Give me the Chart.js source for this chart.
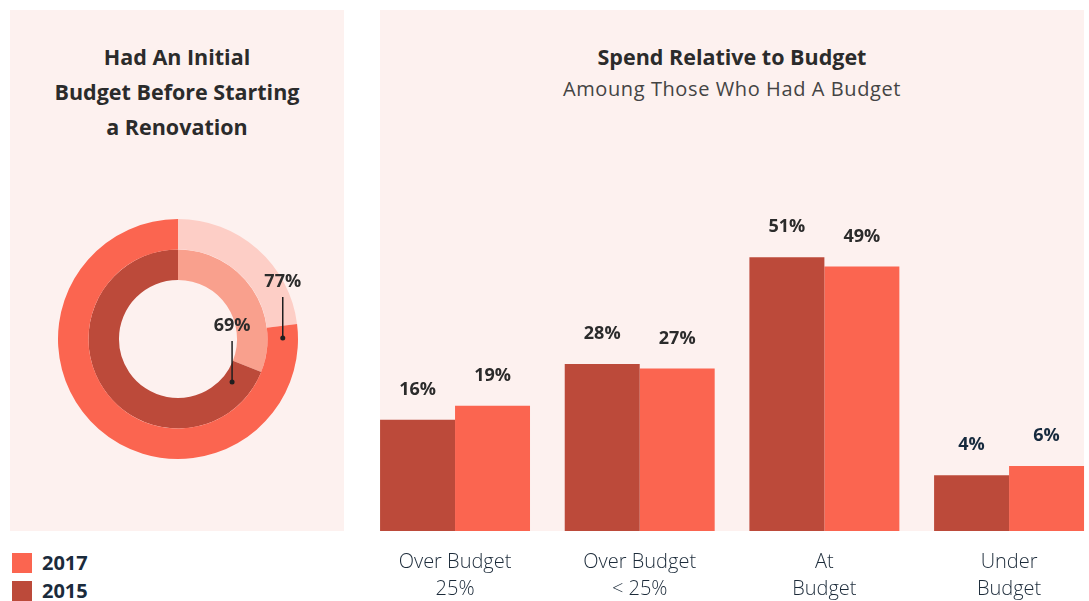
<!DOCTYPE html>
<html>
<head>
<meta charset="utf-8">
<script src="https://cdn.jsdelivr.net/npm/chart.js@4.4.1/dist/chart.umd.min.js"></script>
<style>
  body { margin: 0; width: 1089px; height: 601px; overflow: hidden; background: #fff; position: relative; font-family: "Open Sans", Lato, sans-serif; }
  .panel { position: absolute; background: #fdf1ef; }
  .title { position: absolute; text-align: center; font-weight: 700; font-size: 21.5px; line-height: 35px; color: #2b2b2b; }
  .subtitle { position: absolute; text-align: center; font-size: 20px; color: #444; letter-spacing: 0.6px; }
  .box { position: absolute; }
  .legend { position: absolute; left: 12px; font-weight: 700; font-size: 20px; color: #1b2b3c; }
  .legend div { position: relative; height: 27.5px; line-height: 20px; padding-left: 30px; }
  .legend span { position: absolute; left: 0; top: 0; width: 20px; height: 20px; }
</style>
</head>
<body>
<div class="panel" style="left:10px;top:10px;width:334px;height:521px"></div>
<div class="panel" style="left:380px;top:10px;width:704px;height:521px"></div>

<div class="title" style="left:10px;top:39px;width:334px">Had An Initial<br>Budget Before Starting<br>a Renovation</div>
<div class="title" style="left:380px;top:39px;width:704px">Spend Relative to Budget</div>
<div class="subtitle" style="left:380px;top:75px;width:704px">Amoung Those Who Had A Budget</div>

<div class="box" style="left:10px;top:10px;width:334px;height:521px"><canvas id="donut"></canvas></div>
<div class="box" style="left:300px;top:150px;width:812px;height:451px"><canvas id="bars"></canvas></div>

<div class="legend" style="top:553px">
  <div><span style="background:#fb6550"></span>2017</div>
  <div><span style="background:#bc4a3a"></span>2015</div>
</div>

<script>
// donut: had a budget (yes / no)
const years = ['2017', '2015'];
const budgetYes = [77, 69];
const budgetNo = [23, 31];

// bars: spend relative to budget
const categories = [['Over Budget', '25%'], ['Over Budget', '< 25%'], ['At', 'Budget'], ['Under', 'Budget']];
const spend2015 = [16, 28, 51, 4];
const spend2017 = [19, 27, 49, 6];

const COLOR_2017 = '#fb6550';
const COLOR_2015 = '#bc4a3a';
const FONT = '"Open Sans"';

// callout on each ring: value above a short leader line
const donutCallouts = {
  id: 'donutCallouts',
  afterDatasetsDraw(chart) {
    const ctx = chart.ctx;
    const offsets = [0.117, 0.295];   // radians past the start of the "yes" arc
    const radial = [0.5, 0.33];       // where the dot sits across the ring
    chart.data.datasets.forEach((ds, i) => {
      const arc = chart.getDatasetMeta(i).data[1];
      const a = arc.startAngle + offsets[i];
      const r = arc.innerRadius + (arc.outerRadius - arc.innerRadius) * radial[i];
      const x = arc.x + Math.cos(a) * r;
      const y = arc.y + Math.sin(a) * r;
      ctx.save();
      ctx.strokeStyle = '#1f1f1f';
      ctx.fillStyle = '#1f1f1f';
      ctx.lineWidth = 1.5;
      ctx.beginPath();
      ctx.moveTo(x, y);
      ctx.lineTo(x, y - 41);
      ctx.stroke();
      ctx.beginPath();
      ctx.arc(x, y, 2.5, 0, Math.PI * 2);
      ctx.fill();
      ctx.font = '700 18px ' + FONT;
      ctx.textAlign = 'center';
      ctx.textBaseline = 'middle';
      ctx.fillStyle = '#2b2b2b';
      ctx.fillText(ds.data[1] + '%', x, y - 56);
      ctx.restore();
    });
  }
};

new Chart(document.getElementById('donut'), {
  type: 'doughnut',
  data: {
    labels: ['No budget', 'Had a budget'],
    datasets: [
      { label: years[0], data: [budgetNo[0], budgetYes[0]], backgroundColor: ['#fdcec6', COLOR_2017], borderWidth: 0 },
      { label: years[1], data: [budgetNo[1], budgetYes[1]], backgroundColor: ['#f9a08d', COLOR_2015], borderWidth: 0 }
    ]
  },
  options: {
    responsive: true,
    maintainAspectRatio: false,
    animation: false,
    cutout: '49.2%',
    layout: { padding: { left: 48, right: 46, top: 209, bottom: 72 } },
    plugins: { legend: { display: false }, tooltip: { enabled: false } }
  },
  plugins: [donutCallouts]
});

const barValues = {
  id: 'barValues',
  afterDatasetsDraw(chart) {
    const ctx = chart.ctx;
    ctx.save();
    ctx.font = '700 18px ' + FONT;
    ctx.textAlign = 'center';
    ctx.textBaseline = 'middle';
    chart.data.datasets.forEach((ds, i) => {
      chart.getDatasetMeta(i).data.forEach((bar, j) => {
        ctx.fillStyle = j === 3 ? '#15293d' : '#2b2b2b';
        ctx.fillText(ds.data[j] + '%', bar.x, bar.y - 30);
      });
    });
    ctx.restore();
  }
};

new Chart(document.getElementById('bars'), {
  type: 'bar',
  data: {
    labels: categories,
    datasets: [
      { label: '2015', data: spend2015, backgroundColor: COLOR_2015, base: -8 },
      { label: '2017', data: spend2017, backgroundColor: COLOR_2017, base: -8 }
    ]
  },
  options: {
    responsive: true,
    maintainAspectRatio: false,
    animation: false,
    layout: { padding: { left: 62.7, right: 10.6, top: 51.6, bottom: 0 } },
    datasets: { bar: { categoryPercentage: 0.812, barPercentage: 1, borderWidth: 0 } },
    plugins: { legend: { display: false }, tooltip: { enabled: false } },
    scales: {
      x: {
        grid: { display: false },
        border: { display: false },
        ticks: { color: '#1c2b3a', font: { family: FONT, size: 20, weight: 300, lineHeight: 1.35 }, padding: 10, maxRotation: 0 },
        afterFit(scale) { scale.height = 70; }
      },
      y: { display: false, min: -8, max: 63 }
    }
  },
  plugins: [barValues]
});
</script>
</body>
</html>
